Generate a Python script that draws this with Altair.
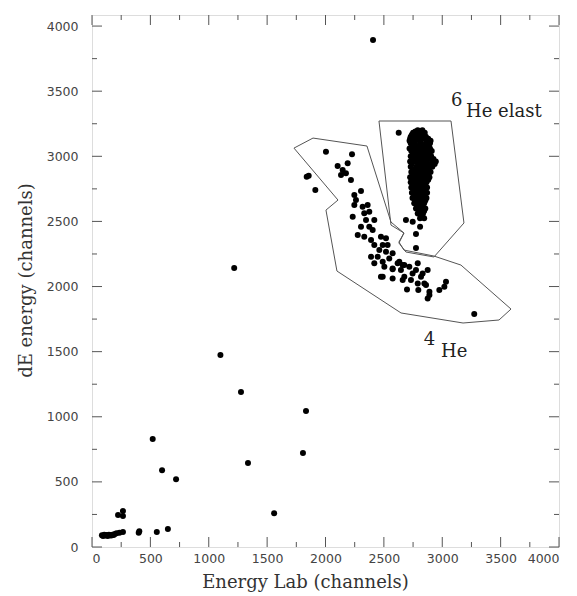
import altair as alt
import pandas as pd

# ---- scattered events ----
scat_x = [85, 95, 105, 115, 125, 135, 145, 155, 165, 175, 185, 195, 210, 235, 265,
          223, 265, 265, 400, 405, 555, 650, 1560,
          520, 600, 720, 1100, 1218, 1276, 1336, 1807, 1833, 2407, 2627]
scat_y = [90, 85, 95, 88, 92, 85, 95, 90, 88, 95, 92, 100, 105, 110, 115,
          246, 276, 238, 110, 120, 115, 138, 260,
          830, 590, 520, 1475, 2143, 1190, 645, 722, 1045, 3893, 3181]

# ---- 4He band ----
he4_x = [2004, 2227, 2104, 2190, 2147, 2175, 2218, 2133, 1856, 1839, 1913, 2304, 2247, 2261,
         2247, 2318, 2361, 2233, 2332, 2375, 2347, 2418, 2304, 2375, 2404, 2276, 2332, 2390,
         2475, 2518, 2418, 2490, 2532, 2461, 2518, 2575, 2390, 2447, 2546, 2490, 2618, 2418,
         2504, 2575, 2661, 2490, 2575, 2675, 2475, 2575, 2646, 2632, 2675, 2718, 2746, 2790,
         2775, 2818, 2732, 2661, 2698, 2790, 2832, 2875, 2861, 2890, 2875, 2847, 2975, 3018,
         3032, 3274, 2795, 2890, 2689, 2747, 2810, 2775, 2775]
he4_y = [3035, 3015, 2925, 2946, 2895, 2869, 2818, 2856, 2851, 2843, 2741, 2733, 2703, 2664,
         2626, 2613, 2626, 2536, 2562, 2575, 2511, 2511, 2459, 2459, 2434, 2396, 2383, 2357,
         2383, 2370, 2319, 2319, 2319, 2280, 2267, 2255, 2229, 2229, 2216, 2190, 2178, 2178,
         2152, 2139, 2165, 2075, 2062, 2075, 2075, 2132, 2127, 2190, 2165, 2152, 2101, 2178,
         2127, 2075, 2050, 2050, 1978, 2024, 2101, 2127, 2012, 1960, 1909, 2024, 1973, 1999,
         2037, 1789, 1973, 1935, 2511, 2498, 2459, 2403, 2296]

# ---- 6He elastic blob (row by row) ----
blob_rows = {
    3200: [2790, 2830],
    3190: [2770, 2815],
    3180: [2750, 2800, 2850],
    3165: [2740, 2790, 2840],
    3150: [2730, 2780, 2820, 2860],
    3135: [2725, 2755, 2795, 2840, 2880],
    3120: [2720, 2770, 2810, 2870, 2900],
    3100: [2730, 2765, 2815, 2860, 2895],
    3080: [2740, 2790, 2840, 2885],
    3060: [2720, 2760, 2805, 2850, 2895],
    3040: [2735, 2780, 2825, 2870, 2910],
    3020: [2750, 2800, 2845, 2890],
    3000: [2730, 2775, 2820, 2865, 2905],
    2980: [2745, 2795, 2840, 2885, 2925],
    2960: [2725, 2770, 2815, 2860, 2920, 2945],
    2940: [2740, 2800, 2845, 2890, 2935],
    2920: [2730, 2780, 2825, 2870, 2915],
    2900: [2750, 2800, 2845, 2885],
    2880: [2735, 2775, 2820, 2865, 2900],
    2860: [2745, 2795, 2840, 2880],
    2840: [2725, 2770, 2815, 2860, 2890],
    2820: [2745, 2795, 2840, 2880],
    2800: [2730, 2775, 2820, 2865],
    2780: [2750, 2800, 2845],
    2760: [2735, 2780, 2825, 2870],
    2740: [2755, 2805, 2850],
    2720: [2740, 2785, 2830, 2870],
    2700: [2760, 2810, 2850],
    2680: [2745, 2790, 2835, 2865],
    2660: [2770, 2815, 2855],
    2640: [2760, 2800, 2845],
    2620: [2785, 2830],
    2600: [2775, 2815, 2855],
    2580: [2800, 2845],
    2560: [2790, 2835],
    2545: [2820],
    2525: [2810, 2845],
}

# ---- cut polygons ----
poly6_x = [2458, 3075, 3186, 2929, 2689, 2629, 2672, 2561, 2458]
poly6_y = [3271, 3271, 2488, 2227, 2265, 2334, 2411, 2472, 3271]
poly4_x = [1730, 1893, 2355, 2561, 2672, 2629, 2672, 2929, 3160, 3589, 3486, 3178, 2647, 2098, 2004, 2107, 1730]
poly4_y = [3063, 3140, 3079, 2495, 2411, 2342, 2280, 2234, 2165, 1827, 1743, 1720, 1797, 2119, 2587, 2664, 3063]

# ---- annotations ----
ann_text = ["6", "He elast", "4", "He"]
ann_x = [3075, 3203, 2841, 2989]
ann_y = [3386, 3302, 1551, 1461]

# ---- ticks / labels ----
label_vals = [0, 500, 1000, 1500, 2000, 2500, 3000, 3500, 4000]
minor_vals = [250, 750, 1250, 1750, 2250, 2750, 3250, 3750]

W, H = 467, 532

pts = pd.DataFrame({"x": scat_x + he4_x, "y": scat_y + he4_y})
bx, by = [], []
for yy, xs in blob_rows.items():
    for xx in xs:
        bx.append(xx)
        by.append(yy)
pts = pd.concat([pts, pd.DataFrame({"x": bx, "y": by})], ignore_index=True)

polys = pd.concat([
    pd.DataFrame({"poly": "6He", "i": range(len(poly6_x)), "x": poly6_x, "y": poly6_y}),
    pd.DataFrame({"poly": "4He", "i": range(len(poly4_x)), "x": poly4_x, "y": poly4_y}),
], ignore_index=True)

ann = pd.DataFrame({"t": ann_text, "x": ann_x, "y": ann_y})

xscale = alt.Scale(domain=[0, 4000], nice=False, zero=False)
yscale = alt.Scale(domain=[0, 4085], nice=False, zero=False)

xaxis = alt.Axis(values=label_vals, format="d", ticks=False, domain=False, grid=False,
                 labelFont="DejaVu Sans", labelFontSize=12.5, labelColor="#444",
                 labelPadding=5, title="Energy Lab (channels)",
                 titleFont="DejaVu Serif", titleFontSize=18, titleFontWeight="normal",
                 titleColor="#333", titleX=213, titleY=40, titleBaseline="alphabetic")
yaxis = alt.Axis(values=label_vals, format="d", ticks=False, domain=False, grid=False,
                 labelFont="DejaVu Sans", labelFontSize=12.5, labelColor="#444",
                 labelPadding=14, title="dE energy (channels)",
                 titleFont="DejaVu Serif", titleFontSize=18, titleFontWeight="normal",
                 titleColor="#333", titleX=-57, titleY=265)


def X(f):
    return alt.X(f, type="quantitative", scale=xscale, axis=xaxis)


def Y(f):
    return alt.Y(f, type="quantitative", scale=yscale, axis=yaxis)


points = alt.Chart(pts).mark_circle(size=36, color="black", opacity=1).encode(x=X("x"), y=Y("y"))

lines = alt.Chart(polys).mark_line(color="#555", strokeWidth=1).encode(
    x=X("x"), y=Y("y"), detail="poly:N", order="i:Q")

texts = alt.Chart(ann).mark_text(font="DejaVu Serif", fontSize=18, color="#222",
                                 align="left", baseline="alphabetic").encode(
    x=X("x"), y=Y("y"), text="t:N")

tick_layers = []
for vals, L in [(label_vals, 10), (minor_vals, 5)]:
    d = pd.DataFrame({"v": vals})
    tick_layers.append(alt.Chart(d).mark_rule(color="#555").encode(
        y=Y("v"), x=alt.value(0), x2=alt.value(L)))
    tick_layers.append(alt.Chart(d).mark_rule(color="#555").encode(
        y=Y("v"), x=alt.value(W), x2=alt.value(W - L)))
    tick_layers.append(alt.Chart(d).mark_rule(color="#555").encode(
        x=X("v"), y=alt.value(H), y2=alt.value(H - L)))
    tick_layers.append(alt.Chart(d).mark_rule(color="#555").encode(
        x=X("v"), y=alt.value(0), y2=alt.value(L)))

chart = alt.layer(*tick_layers, lines, points, texts).properties(
    width=W, height=H,
    autosize=alt.AutoSizeParams(type="none"),
    padding={"left": 84, "top": 7, "right": 10, "bottom": 46},
).configure_view(stroke="#555", strokeWidth=1).configure(background="white")

chart.save("out.html", embed_options={"renderer": "svg", "actions": False})
